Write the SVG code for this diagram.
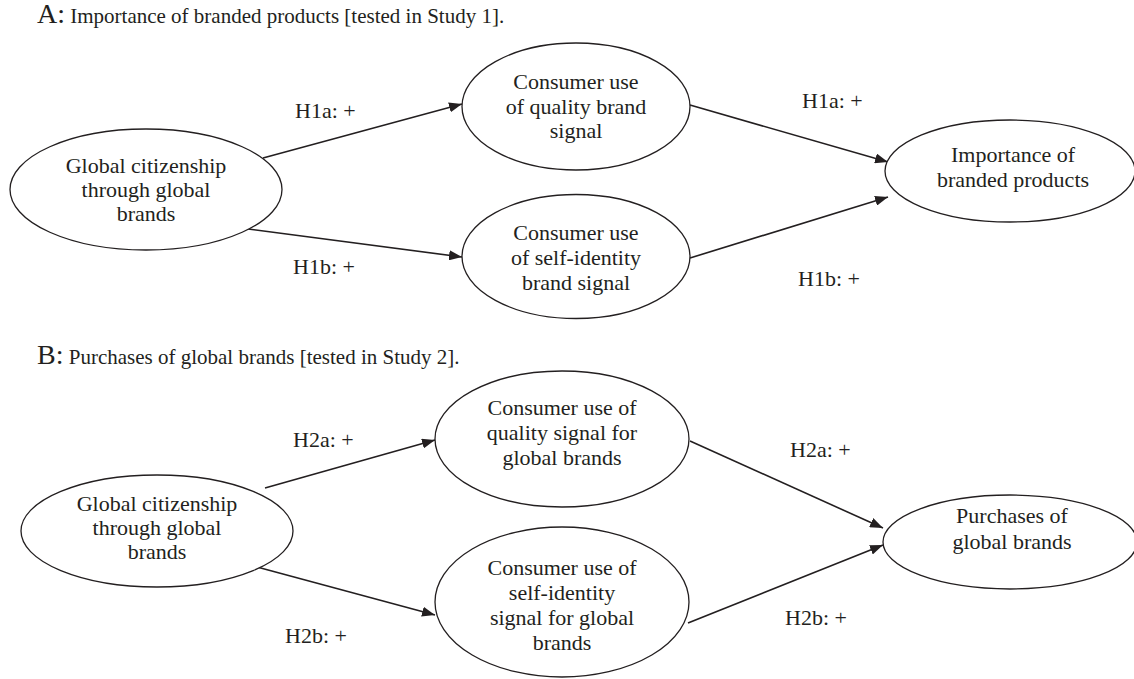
<svg xmlns="http://www.w3.org/2000/svg" width="1134" height="679" viewBox="0 0 1134 679">
<style>
text{font-family:"Liberation Serif","Times New Roman",serif;fill:#231f20;}
.t{font-size:21px;}
.l{font-size:22px;}
.n{font-size:22px;text-anchor:middle;}
.big{font-size:28px;}
.e{fill:#fff;stroke:#231f20;stroke-width:1.3;}
.c{stroke:#231f20;stroke-width:1.6;fill:none;marker-end:url(#ah);}
</style>
<defs>
<marker id="ah" viewBox="0 0 13 10" refX="13" refY="5" markerWidth="13" markerHeight="10" markerUnits="userSpaceOnUse" orient="auto">
<path d="M0,0 L13,5 L0,10 z" fill="#231f20"/>
</marker>
</defs>
<rect width="1134" height="679" fill="#fff"/>
<g id="titles">
<text x="37" y="23" class="t"><tspan class="big">A:</tspan> Importance of branded products [tested in Study 1].</text>
<text x="37" y="364" class="t"><tspan class="big">B:</tspan> Purchases of global brands [tested in Study 2].</text>
</g>
<g id="connectors">
<line class="c" x1="263" y1="158" x2="462" y2="104"/>
<line class="c" x1="248" y1="229" x2="462" y2="257"/>
<line class="c" x1="690" y1="105" x2="888" y2="162"/>
<line class="c" x1="690" y1="258" x2="888" y2="197"/>
<line class="c" x1="265" y1="488" x2="435" y2="440"/>
<line class="c" x1="257" y1="567" x2="435" y2="615"/>
<line class="c" x1="690" y1="441" x2="883" y2="528"/>
<line class="c" x1="688" y1="623" x2="883" y2="545"/>
</g>
<g id="labels">
<text x="295" y="118" class="l">H1a: +</text>
<text x="293" y="274" class="l">H1b: +</text>
<text x="802" y="108" class="l">H1a: +</text>
<text x="798" y="286" class="l">H1b: +</text>
<text x="293" y="447" class="l">H2a: +</text>
<text x="285" y="643" class="l">H2b: +</text>
<text x="790" y="457" class="l">H2a: +</text>
<text x="785" y="625" class="l">H2b: +</text>
</g>
<g id="a-global">
<ellipse class="e" cx="146" cy="189.5" rx="136" ry="60.5"/>
<text class="n" x="146" y="173">Global citizenship</text>
<text class="n" x="146" y="197">through global</text>
<text class="n" x="146" y="221">brands</text>
</g>
<g id="a-quality">
<ellipse class="e" cx="576" cy="106.5" rx="114" ry="63.5"/>
<text class="n" x="576" y="89">Consumer use</text>
<text class="n" x="576" y="114">of quality brand</text>
<text class="n" x="576" y="138">signal</text>
</g>
<g id="a-self">
<ellipse class="e" cx="576" cy="256.5" rx="114" ry="62"/>
<text class="n" x="576" y="240">Consumer use</text>
<text class="n" x="576" y="265">of self-identity</text>
<text class="n" x="576" y="290">brand signal</text>
</g>
<g id="a-importance">
<ellipse class="e" cx="1010" cy="171" rx="125" ry="51"/>
<text class="n" x="1013" y="162">Importance of</text>
<text class="n" x="1013" y="187">branded products</text>
</g>
<g id="b-global">
<ellipse class="e" cx="157" cy="531" rx="136" ry="56"/>
<text class="n" x="157" y="511">Global citizenship</text>
<text class="n" x="157" y="535">through global</text>
<text class="n" x="157" y="559">brands</text>
</g>
<g id="b-quality">
<ellipse class="e" cx="562" cy="439" rx="127" ry="68"/>
<text class="n" x="562" y="415">Consumer use of</text>
<text class="n" x="562" y="440">quality signal for</text>
<text class="n" x="562" y="465">global brands</text>
</g>
<g id="b-self">
<ellipse class="e" cx="562" cy="602" rx="127" ry="75"/>
<text class="n" x="562" y="575">Consumer use of</text>
<text class="n" x="562" y="600">self-identity</text>
<text class="n" x="562" y="625">signal for global</text>
<text class="n" x="562" y="650">brands</text>
</g>
<g id="b-purchases">
<ellipse class="e" cx="1010" cy="542" rx="127" ry="47"/>
<text class="n" x="1012" y="523">Purchases of</text>
<text class="n" x="1012" y="549">global brands</text>
</g>
</svg>
